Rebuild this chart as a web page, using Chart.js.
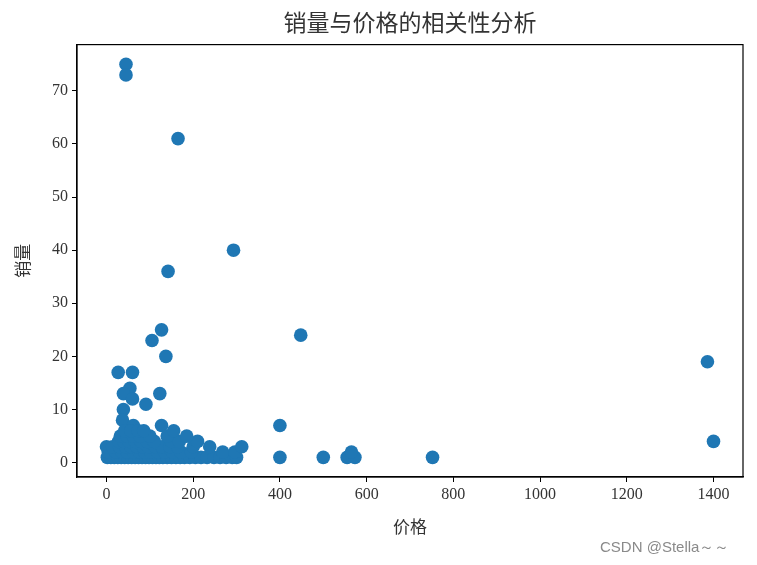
<!DOCTYPE html>
<html>
<head>
<meta charset="utf-8">
<script src="https://cdn.jsdelivr.net/npm/chart.js@4"></script>
<style>
  body { margin: 0; background: #fff; }
  #wrap { position: relative; width: 757px; height: 565px; }
  #mark { position: absolute; left: 600px; top: 538px; font: 15px "Liberation Sans", sans-serif; color: #8a8a8a; }
</style>
</head>
<body>
<div id="wrap">
  <canvas id="scatter"></canvas>
  <div id="mark">CSDN @Stella～～</div>
</div>
<script>
// 价格 / 销量 pairs
const price = [
  45, 45, 165, 293, 142, 127, 448, 105, 137, 1386, 27, 60, 54, 39, 123, 60, 91, 39, 37,
  400, 127, 62, 1400, 400, 500, 555, 573, 565, 752,
  // 销量 = 1
  2, 10, 18, 26, 34, 42, 50, 58, 66, 74, 82, 90, 98, 106, 114, 122, 130, 140, 150, 160,
  170, 180, 192, 205, 218, 232, 248, 262, 276, 290, 300,
  // 销量 = 2
  4, 22, 36, 48, 62, 76, 88, 102, 118, 134, 152, 172, 196, 268, 296,
  // 销量 = 3
  0, 14, 30, 44, 56, 70, 84, 96, 112, 128, 146, 164, 200, 238, 312,
  // 销量 = 4
  28, 40, 52, 66, 80, 94, 110, 150, 168, 210,
  // 销量 = 5
  32, 48, 62, 78, 100, 140, 185,
  // 销量 = 6
  42, 56, 73, 86, 155
];
const sales = [
  75, 73, 61, 40, 36, 25, 24, 23, 20, 19, 17, 17, 14, 13, 13, 12, 11, 10, 8,
  7, 7, 7, 4, 1, 1, 1, 1, 2, 1,
  1, 1, 1, 1, 1, 1, 1, 1, 1, 1, 1, 1, 1, 1, 1, 1, 1, 1, 1, 1,
  1, 1, 1, 1, 1, 1, 1, 1, 1, 1, 1,
  2, 2, 2, 2, 2, 2, 2, 2, 2, 2, 2, 2, 2, 2, 2,
  3, 3, 3, 3, 3, 3, 3, 3, 3, 3, 3, 3, 3, 3, 3,
  4, 4, 4, 4, 4, 4, 4, 4, 4, 4,
  5, 5, 5, 5, 5, 5, 5,
  6, 6, 6, 6, 6
];
const xTicks = [0, 200, 400, 600, 800, 1000, 1200, 1400];
const yTicks = [0, 10, 20, 30, 40, 50, 60, 70];

const points = price.map((p, i) => ({ x: p, y: sales[i] }));

const tickFont = { family: "'Liberation Serif', serif", size: 16 };
const cjkFont = "'Noto Sans CJK SC', sans-serif";

// top and right spines like matplotlib
const frame = {
  id: "frame",
  afterDraw(chart) {
    const { ctx, chartArea: a } = chart;
    ctx.save();
    ctx.strokeStyle = "#000";
    ctx.lineWidth = 1.2;
    ctx.strokeRect(a.left, a.top, a.right - a.left, a.bottom - a.top);
    ctx.restore();
  }
};

new Chart(document.getElementById("scatter"), {
  type: "scatter",
  data: {
    datasets: [{
      data: points,
      backgroundColor: "#1f77b4",
      borderWidth: 0,
      pointRadius: 6.8,
      pointHoverRadius: 6.8
    }]
  },
  options: {
    responsive: true,
    maintainAspectRatio: false,
    animation: false,
    layout: { padding: { left: 0, right: 14, top: 0, bottom: 0 } },
    plugins: {
      legend: { display: false },
      tooltip: { enabled: false },
      title: {
        display: true,
        fullSize: false,
        text: "销量与价格的相关性分析",
        color: "#333",
        font: { family: cjkFont, size: 23, weight: "normal" },
        padding: { top: 8, bottom: 9 }
      }
    },
    scales: {
      x: {
        type: "linear",
        min: -68,
        max: 1468,
        afterFit: s => { s.height = 88; },
        afterBuildTicks: s => { s.ticks = xTicks.map(v => ({ value: v })); },
        grid: { drawOnChartArea: false, tickLength: 5, color: "#000" },
        border: { color: "#000", width: 1.2 },
        ticks: { color: "#333", font: tickFont, padding: 3, maxRotation: 0, callback: v => String(v) },
        title: {
          display: true,
          text: "价格",
          color: "#333",
          font: { family: cjkFont, size: 17 },
          padding: { top: 0, bottom: 28 }
        }
      },
      y: {
        type: "linear",
        min: -2.7,
        max: 78.7,
        afterFit: s => { s.width = 77; },
        afterBuildTicks: s => { s.ticks = yTicks.map(v => ({ value: v })); },
        grid: { drawOnChartArea: false, tickLength: 5, color: "#000" },
        border: { color: "#000", width: 1.2 },
        ticks: { color: "#333", font: tickFont, padding: 4, callback: v => String(v) },
        title: {
          display: true,
          text: "销量",
          color: "#333",
          font: { family: cjkFont, size: 17 },
          padding: { top: 12, bottom: 0 }
        }
      }
    }
  },
  plugins: [frame]
});
</script>
</body>
</html>
